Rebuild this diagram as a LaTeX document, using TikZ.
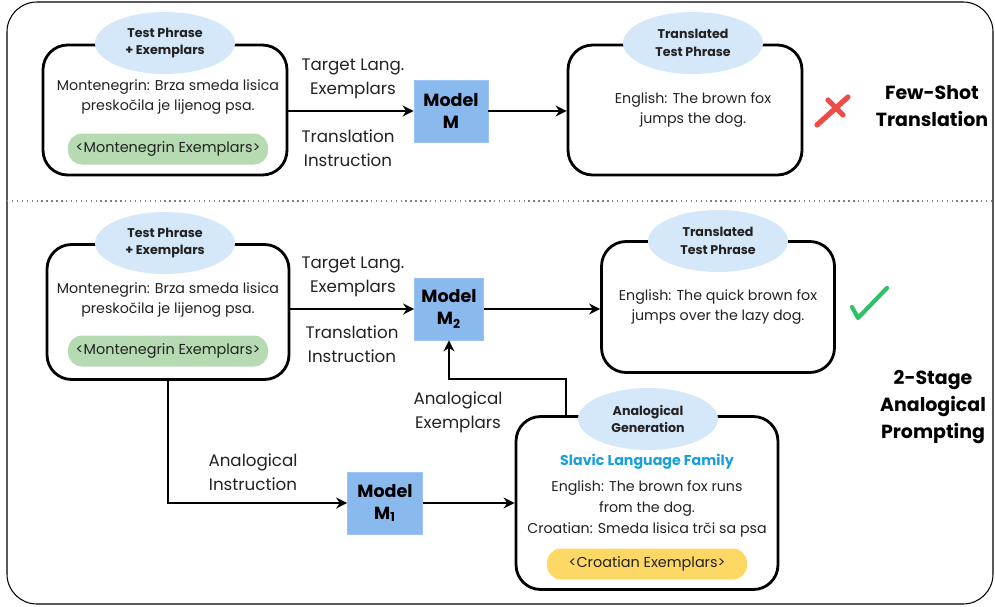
\documentclass[tikz,border=0pt]{standalone}
\usepackage{fontspec}
\setmainfont{Poppins}
\usepackage{xcolor}
\usetikzlibrary{shapes.geometric, arrows.meta, positioning}
\definecolor{tagblue}{RGB}{213, 232, 250}
\definecolor{modelblue}{RGB}{138, 185, 238}
\definecolor{pillgreen}{RGB}{182, 219, 178}
\definecolor{pillyellow}{RGB}{253, 216, 101}
\definecolor{slavicblue}{RGB}{26, 159, 220}
\definecolor{crossred}{RGB}{238, 76, 72}
\definecolor{checkgreen}{RGB}{47, 192, 106}
\definecolor{inkgray}{RGB}{34, 34, 34}

\begin{document}
\begin{tikzpicture}[
    x=0.02cm, y=-0.02cm,
    panel/.style={rectangle, draw, line width=1.6pt, rounded corners=14pt},
    tag/.style={ellipse, fill=tagblue, minimum width=2.8cm, minimum height=1.24cm, inner sep=0pt, align=center, text=inkgray, font=\fontsize{7.2}{10}\selectfont\bfseries},
    model/.style={rectangle, fill=modelblue, draw=modelblue!85!white, align=center, minimum height=1.24cm, font=\fontsize{10}{12.5}\selectfont\bfseries},
    pill/.style={rectangle, rounded corners=8pt, minimum width=4cm, minimum height=0.62cm, text=inkgray, font=\fontsize{8.2}{10}\selectfont},
    body/.style={align=center, text=inkgray, font=\fontsize{8.1}{11.9}\selectfont},
    edgetext/.style={align=center, text=inkgray, font=\fontsize{9.5}{13.6}\selectfont},
    heading/.style={align=center, text=black, font=\fontsize{10.8}{15.3}\selectfont\bfseries},
    arrow/.style={-{Stealth[length=2.2mm, width=2.2mm]}, line width=1.1pt}
]
    \useasboundingbox (0,0) rectangle (995,606);

    % Frame
    \draw[line width=0.6pt, rounded corners=17pt] (7,2) rectangle (993,604);
    \draw[dotted, gray, line width=0.8pt] (7,201) -- (993,201);

    % Few-shot translation
    \node[panel, minimum width=4.88cm, minimum height=2.6cm] (box1) at (165,110) {};
    \node[tag] (tag1) at (165,43) {Test Phrase\\+ Exemplars};
    \node[body] (text1) at (168,97) {Montenegrin: Brza smeda lisica\\preskočila je lijenog psa.};
    \node[pill, fill=pillgreen] (pill1) at (168,149) {<Montenegrin Exemplars>};

    \node[model, minimum width=1.48cm] (model1) at (451,111) {Model\\M};

    \node[panel, minimum width=4.68cm, minimum height=2.6cm] (box2) at (685,110) {};
    \node[tag] (tag2) at (693,43) {Translated\\Test Phrase};
    \node[body] (text2) at (693,110) {English: The brown fox\\jumps the dog.};

    \node[edgetext] (lang1) at (353,79) {Target Lang.\\Exemplars};
    \node[edgetext] (instr1) at (348,148) {Translation\\Instruction};

    \draw[arrow] (box1.east |- model1) -- (model1.west);
    \draw[arrow] (model1.east) -- (model1 -| box2.west);

    \draw[crossred, line width=3pt, line cap=round] (817,125) -- (848,97) (828,100) -- (843,115);
    \node[heading] (fewshot) at (932,106) {Few-Shot\\Translation};

    % 2-stage analogical prompting
    \node[panel, minimum width=4.84cm, minimum height=2.7cm] (box3) at (168,312) {};
    \node[tag] (tag3) at (165,243) {Test Phrase\\+ Exemplars};
    \node[body] (text3) at (168,300) {Montenegrin: Brza smeda lisica\\preskočila je lijenog psa.};
    \node[pill, fill=pillgreen] (pill3) at (168,351) {<Montenegrin Exemplars>};

    \node[model, minimum width=1.38cm] (model2) at (449,309) {Model\\M\textsubscript{2}};

    \node[panel, minimum width=4.66cm, minimum height=2.62cm] (box4) at (718,307) {};
    \node[tag] (tag4) at (718,241) {Translated\\Test Phrase};
    \node[body] (text4) at (718,307) {English: The quick brown fox\\jumps over the lazy dog.};

    \node[edgetext] (lang2) at (353,277) {Target Lang.\\Exemplars};
    \node[edgetext] (instr2) at (352,344) {Translation\\Instruction};

    \draw[arrow] (box3.east |- model2) -- (model2.west);
    \draw[arrow] (model2.east) -- (model2 -| box4.west);

    \draw[checkgreen, line width=2.4pt, line cap=round, line join=round] (852,307) -- (858,318) -- (887,288);
    \node[heading] (twostage) at (933,407) {2-Stage\\Analogical\\Prompting};

    \node[model, minimum width=1.5cm] (model3) at (385,503) {Model\\M\textsubscript{1}};
    \node[edgetext] (anainstr) at (253,472) {Analogical\\Instruction};

    \node[panel, minimum width=5.24cm, minimum height=3.46cm] (box5) at (647,503) {};
    \node[tag] (tag5) at (648,419) {Analogical\\Generation};
    \node[body, text=slavicblue, font=\fontsize{8.1}{10}\selectfont\bfseries] (family) at (647,462) {Slavic Language Family};
    \node[body] (text5) at (647,509) {English: The brown fox runs\\from the dog.\\Croatian: Smeda lisica trči sa psa};
    \node[pill, fill=pillyellow] (pill5) at (647,564) {<Croatian Exemplars>};

    \node[edgetext] (anaex) at (458,412) {Analogical\\Exemplars};

    \draw[arrow] (box3.south) |- (model3.west);
    \draw[arrow] (model3.east) -- (model3 -| box5.west);
    \draw[arrow] (box5.north -| 566,0) -- ++(0,-36) -| (model2.south);
\end{tikzpicture}
\end{document}
